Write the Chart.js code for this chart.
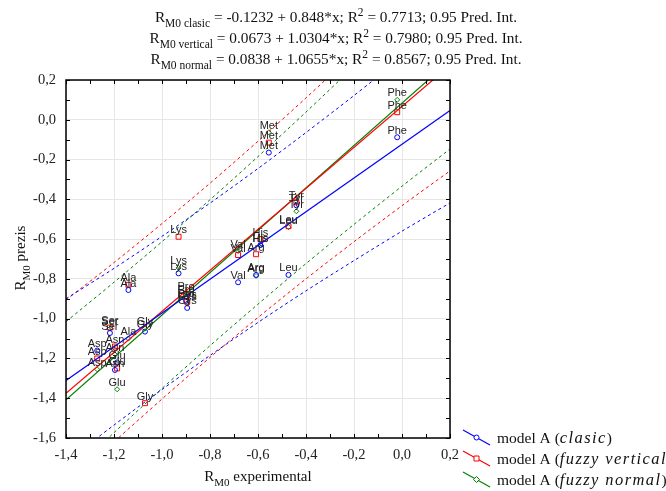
<!DOCTYPE html>
<html>
<head>
<meta charset="utf-8">
<script src="https://cdn.jsdelivr.net/npm/chart.js@4.4.1/dist/chart.umd.min.js"></script>
<style>
  html, body { margin: 0; padding: 0; background: #fff; }
</style>
</head>
<body>
<canvas id="chart" width="666" height="491"></canvas>
<script>
// amino acids, experimental RM0 and the three predicted RM0 series
const acids = ['Phe', 'Met', 'Tyr', 'Leu', 'His', 'Arg', 'Val', 'Lys', 'Ala', 'Pro', 'Cys', 'Ser', 'Gly', 'Asp', 'Asn', 'Glu'];
const xExp = [-0.02, -0.555, -0.44, -0.473, -0.59, -0.608, -0.683, -0.931, -1.14, -0.90, -0.895, -1.217, -1.071, -1.27, -1.196, -1.187];
const predClasic = [-0.088, -0.165, -0.43, -0.78, -0.63, -0.78, -0.817, -0.772, -0.856, -0.91, -0.946, -1.072, -1.065, -1.16, -1.258, -1.22];
const predVertical = [0.038, -0.115, -0.415, -0.535, -0.60, -0.676, -0.68, -0.588, -0.83, -0.875, -0.915, -1.045, -1.425, -1.20, -1.14, -1.25];
const predNormal = [0.100, -0.063, -0.46, -0.54, -0.63, -0.785, -0.66, -0.745, -1.10, -0.89, -0.925, -1.05, -1.05, -1.255, -1.18, -1.355];

// regression coefficients [intercept, slope] from the title
const fitClasic = [-0.1232, 0.848];
const fitVertical = [0.0673, 1.0304];
const fitNormal = [0.0838, 1.0655];

// 0.95 prediction bands
const bandX = [-1.4, -1.2, -1.0, -0.8, -0.6, -0.4, -0.2, 0.0, 0.2];
const clasicUpper = [-0.900, -0.747, -0.586, -0.419, -0.245, -0.064, 0.122, 0.314, 0.510];
const clasicLower = [-1.720, -1.535, -1.356, -1.185, -1.019, -0.860, -0.708, -0.560, -0.418];
const verticalUpper = [-0.906, -0.718, -0.522, -0.319, -0.108, 0.110, 0.335, 0.567, 0.803];
const verticalLower = [-1.844, -1.620, -1.404, -1.195, -0.994, -0.800, -0.613, -0.432, -0.257];
const normalUpper = [-1.015, -0.817, -0.613, -0.402, -0.185, 0.039, 0.268, 0.502, 0.741];
const normalLower = [-1.801, -1.573, -1.351, -1.136, -0.927, -0.723, -0.526, -0.334, -0.147];

const xMin = -1.4, xMax = 0.2, yMin = -1.6, yMax = 0.2;

const BLUE = '#0000ff', RED = '#ff0000', GREEN = '#008000';
const SERIF = '"Liberation Serif", "Times New Roman", serif';

const pts = (xs, ys) => xs.map((x, i) => ({ x: x, y: ys[i] }));
const fitLine = (f) => [{ x: xMin, y: f[0] + f[1] * xMin }, { x: xMax, y: f[0] + f[1] * xMax }];

const band = (data, color) => ({
  data: data, showLine: true, borderColor: color, borderWidth: 1, borderDash: [3, 3],
  pointRadius: 0, tension: 0.3, fill: false
});
const fit = (data, color) => ({
  data: data, showLine: true, borderColor: color, borderWidth: 1.2, pointRadius: 0, fill: false
});
const scatter = (data, color, style, r) => ({
  data: data, showLine: false, pointStyle: style, pointRadius: r, pointBorderWidth: 1,
  pointBorderColor: color, pointBackgroundColor: 'rgba(0,0,0,0)', labels: true
});

function fmt(v) {
  if (Math.abs(v) < 1e-9) v = 0;
  return v.toFixed(1).replace('.', ',');
}

// draws text pieces with subscript / superscript / italic parts
function drawRich(ctx, parts, x, y, size, small, italic, align) {
  const setFont = k => {
    ctx.letterSpacing = '0px';
    if (k === 'i') { ctx.font = 'italic ' + italic + 'px ' + SERIF; ctx.letterSpacing = '1.4px'; }
    else if (k === 'sub' || k === 'sup') ctx.font = small + 'px ' + SERIF;
    else ctx.font = size + 'px ' + SERIF;
  };
  let w = 0;
  parts.forEach(p => { setFont(p[1]); w += ctx.measureText(p[0]).width; });
  let cx = align === 'center' ? x - w / 2 : x;
  ctx.textAlign = 'left';
  ctx.textBaseline = 'alphabetic';
  parts.forEach(p => {
    setFont(p[1]);
    const dy = p[1] === 'sub' ? size * 0.3 : (p[1] === 'sup' ? -size * 0.4 : 0);
    ctx.fillText(p[0], cx, y + dy);
    cx += ctx.measureText(p[0]).width;
  });
  ctx.letterSpacing = '0px';
}

const titleLines = [
  [['R', ''], ['M0 clasic', 'sub'], [' = -0.1232 + 0.848*x; R', ''], ['2', 'sup'], [' = 0.7713; 0.95 Pred. Int.', '']],
  [['R', ''], ['M0 vertical', 'sub'], [' = 0.0673 + 1.0304*x; R', ''], ['2', 'sup'], [' = 0.7980; 0.95 Pred. Int.', '']],
  [['R', ''], ['M0 normal', 'sub'], [' = 0.0838 + 1.0655*x; R', ''], ['2', 'sup'], [' = 0.8567; 0.95 Pred. Int.', '']]
];

const legendItems = [
  { color: BLUE, style: 'circle', text: [['model A (', ''], ['clasic', 'i'], [')', '']] },
  { color: RED, style: 'rect', text: [['model A (', ''], ['fuzzy vertical', 'i'], [')', '']] },
  { color: GREEN, style: 'diamond', text: [['model A (', ''], ['fuzzy normal', 'i'], [')', '']] }
];

function marker(ctx, style, x, y, color) {
  ctx.strokeStyle = color;
  ctx.lineWidth = 1;
  ctx.beginPath();
  if (style === 'circle') ctx.arc(x, y, 2.5, 0, Math.PI * 2);
  else if (style === 'rect') ctx.rect(x - 2.5, y - 2.5, 5, 5);
  else { ctx.moveTo(x, y - 3); ctx.lineTo(x + 3, y); ctx.lineTo(x, y + 3); ctx.lineTo(x - 3, y); ctx.closePath(); }
  ctx.fillStyle = '#fff';
  ctx.fill();
  ctx.stroke();
}

const decorations = {
  id: 'decorations',
  afterDatasetsDraw(chart) {
    const ctx = chart.ctx;
    const xs = chart.scales.x, ys = chart.scales.y;
    const a = chart.chartArea;

    // point labels
    ctx.save();
    ctx.font = '11px "Liberation Sans", Arial, sans-serif';
    ctx.fillStyle = '#222';
    ctx.textAlign = 'center';
    ctx.textBaseline = 'bottom';
    chart.data.datasets.forEach(ds => {
      if (!ds.labels) return;
      ds.data.forEach((p, i) => {
        const px = xs.getPixelForValue(p.x), py = ys.getPixelForValue(p.y);
        ctx.fillText(acids[i], px, py - 1);
      });
    });
    ctx.restore();

    // frame with inward ticks
    ctx.save();
    ctx.strokeStyle = '#000';
    ctx.lineWidth = 1.5;
    ctx.strokeRect(a.left, a.top, a.right - a.left, a.bottom - a.top);
    ctx.lineWidth = 1;
    ctx.beginPath();
    for (let k = 0; k <= 16; k++) {
      const px = Math.round(xs.getPixelForValue(xMin + k * 0.1)) + 0.5;
      ctx.moveTo(px, a.bottom); ctx.lineTo(px, a.bottom - 4);
      ctx.moveTo(px, a.top); ctx.lineTo(px, a.top + 4);
    }
    for (let k = 0; k <= 18; k++) {
      const py = Math.round(ys.getPixelForValue(yMin + k * 0.1)) + 0.5;
      ctx.moveTo(a.left, py); ctx.lineTo(a.left + 4, py);
      ctx.moveTo(a.right, py); ctx.lineTo(a.right - 4, py);
    }
    ctx.stroke();
    ctx.restore();
  },
  afterDraw(chart) {
    const ctx = chart.ctx;
    ctx.save();
    ctx.fillStyle = '#111';
    titleLines.forEach((line, i) => drawRich(ctx, line, 336, 22 + i * 21, 15.3, 11.5, 15.3, 'center'));

    // axis titles
    drawRich(ctx, [['R', ''], ['M0', 'sub'], [' experimental', '']], 258, 481, 15, 11, 15, 'center');
    ctx.translate(25, 258);
    ctx.rotate(-Math.PI / 2);
    drawRich(ctx, [['R', ''], ['M0', 'sub'], [' prezis', '']], 0, 0, 15, 11, 15, 'center');
    ctx.restore();

    // legend
    ctx.save();
    legendItems.forEach((it, i) => {
      const cy = 438 + i * 21;
      ctx.strokeStyle = it.color;
      ctx.lineWidth = 1.2;
      ctx.beginPath();
      ctx.moveTo(463, cy - 8);
      ctx.lineTo(490, cy + 7);
      ctx.stroke();
      marker(ctx, it.style, 476.5, cy - 0.5, it.color);
      ctx.fillStyle = '#111';
      drawRich(ctx, it.text, 497, cy + 5, 15.5, 11, 16.5, 'left');
    });
    ctx.restore();
  }
};

new Chart(document.getElementById('chart'), {
  type: 'scatter',
  data: {
    datasets: [
      band(pts(bandX, clasicUpper), BLUE),
      band(pts(bandX, clasicLower), BLUE),
      band(pts(bandX, verticalUpper), RED),
      band(pts(bandX, verticalLower), RED),
      band(pts(bandX, normalUpper), GREEN),
      band(pts(bandX, normalLower), GREEN),
      fit(fitLine(fitClasic), BLUE),
      fit(fitLine(fitVertical), RED),
      fit(fitLine(fitNormal), GREEN),
      scatter(pts(xExp, predClasic), BLUE, 'circle', 2.5),
      scatter(pts(xExp, predVertical), RED, 'rect', 3.5),
      scatter(pts(xExp, predNormal), GREEN, 'rectRot', 2.5)
    ]
  },
  options: {
    responsive: false,
    animation: false,
    layout: { padding: { left: 0, top: 80, right: 216, bottom: 0 } },
    plugins: { legend: { display: false }, title: { display: false }, tooltip: { enabled: false } },
    scales: {
      x: {
        type: 'linear', min: xMin, max: xMax,
        afterFit: s => { s.height = 53; },
        grid: { color: '#e6e6e6', drawTicks: false },
        border: { display: false },
        ticks: { stepSize: 0.2, padding: 8, color: '#222', font: { family: SERIF, size: 14.5 }, callback: v => fmt(v) }
      },
      y: {
        type: 'linear', min: yMin, max: yMax,
        afterFit: s => { s.width = 66; },
        grid: { color: '#e6e6e6', drawTicks: false },
        border: { display: false },
        ticks: { stepSize: 0.2, padding: 10, color: '#222', font: { family: SERIF, size: 14.5 }, callback: v => fmt(v) }
      }
    }
  },
  plugins: [decorations]
});
</script>
</body>
</html>
